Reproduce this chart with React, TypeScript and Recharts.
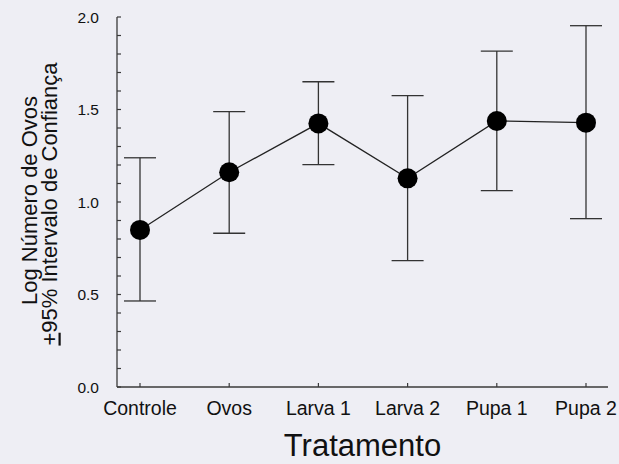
import React from 'react';
import { LineChart, Line, XAxis, YAxis, ErrorBar } from 'recharts';

const categories = ['Controle', 'Ovos', 'Larva 1', 'Larva 2', 'Pupa 1', 'Pupa 2'];
const means = [0.849, 1.161, 1.425, 1.128, 1.438, 1.429];
const lowerCI = [0.465, 0.831, 1.202, 0.683, 1.061, 0.910];
const upperCI = [1.239, 1.488, 1.650, 1.575, 1.816, 1.953];
const yTicks = [0, 0.1, 0.2, 0.3, 0.4, 0.5, 0.6, 0.7, 0.8, 0.9, 1.0, 1.1, 1.2, 1.3, 1.4, 1.5, 1.6, 1.7, 1.8, 1.9, 2.0];
const yLabeled = [0, 0.5, 1.0, 1.5, 2.0];

const data = categories.map((c, i) => ({
  name: c,
  mean: means[i],
  err: [means[i] - lowerCI[i], upperCI[i] - means[i]],
}));

const FONT = '"Liberation Sans", Arial, sans-serif';
const AX = '#3a3a3a';

const YLabel = (props: any) => {
  const vb = props.viewBox || { x: 0, y: 17, width: 117, height: 370 };
  const cy = vb.y + vb.height / 2;
  const x1 = vb.x + 36.5;
  const x2 = vb.x + 56.5;
  return (
    <g fontFamily={FONT} fontSize={22} fill="#111">
      <text x={x1} y={cy - 1.5} textAnchor="middle" transform={`rotate(-90, ${x1}, ${cy - 1.5})`}>
        Log Número de Ovos
      </text>
      <text x={x2} y={cy + 2} textAnchor="middle" transform={`rotate(-90, ${x2}, ${cy + 2})`}>
        <tspan style={{ textDecoration: 'underline' }}>+</tspan>95% Intervalo de Confiança
      </text>
    </g>
  );
};

const XLabel = (props: any) => {
  const vb = props.viewBox || { x: 117, y: 387, width: 491, height: 30 };
  return (
    <text x={vb.x + vb.width / 2} y={vb.y + 69} textAnchor="middle" fontFamily={FONT} fontSize={31} fill="#111">
      Tratamento
    </text>
  );
};

export default function App() {
  return (
    <div style={{ position: 'absolute', left: 0, top: 0, width: 619, height: 464, background: '#eeeef4' }}>
      <LineChart width={619} height={464} data={data} margin={{ top: 17, right: 11, bottom: 47, left: 0 }}>
        <XAxis
          dataKey="name"
          type="category"
          padding={{ left: 23, right: 22 }}
          height={30}
          tickSize={-4}
          tickMargin={18.5}
          interval={0}
          axisLine={{ stroke: AX, strokeWidth: 1.3 }}
          tickLine={{ stroke: AX, strokeWidth: 1.2 }}
          tick={{ fontFamily: FONT, fontSize: 19.5, fill: '#111' }}
          label={<XLabel />}
        />
        <XAxis
          xAxisId="top"
          dataKey="name"
          orientation="top"
          height={0}
          tick={false}
          tickLine={false}
          axisLine={{ stroke: AX, strokeWidth: 1.3 }}
        />
        <YAxis
          type="number"
          domain={[0, 2]}
          ticks={yTicks}
          interval={0}
          width={117}
          tickSize={-4}
          tickMargin={22}
          axisLine={{ stroke: AX, strokeWidth: 1.3 }}
          tickLine={{ stroke: AX, strokeWidth: 1.2 }}
          tick={{ fontFamily: FONT, fontSize: 15.5, fill: '#111' }}
          tickFormatter={(v: number) => (yLabeled.some((t) => Math.abs(t - v) < 1e-6) ? v.toFixed(1) : '')}
          label={<YLabel />}
        />
        <YAxis
          yAxisId="right"
          orientation="right"
          domain={[0, 2]}
          width={0}
          tick={false}
          tickLine={false}
          axisLine={{ stroke: AX, strokeWidth: 1.3 }}
        />
        <Line
          dataKey="mean"
          stroke="#222"
          strokeWidth={1.3}
          isAnimationActive={false}
          dot={{ r: 10, fill: '#000', stroke: '#000', strokeWidth: 0 }}
          activeDot={false}
        >
          <ErrorBar dataKey="err" direction="y" width={16} stroke="#333" strokeWidth={1.3} />
        </Line>
      </LineChart>
    </div>
  );
}
